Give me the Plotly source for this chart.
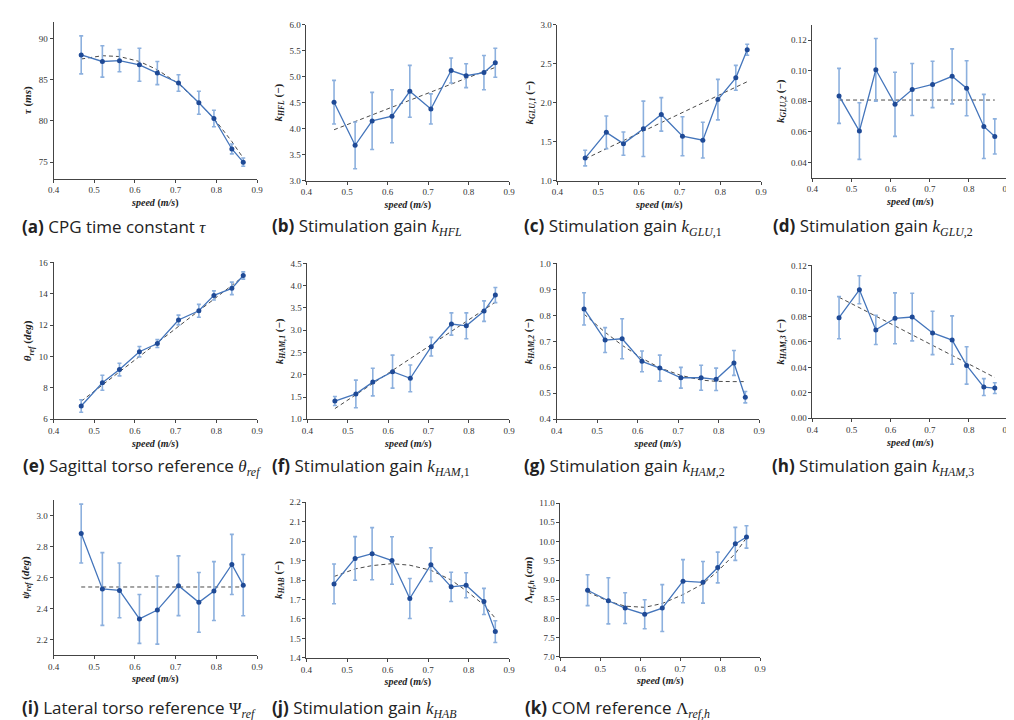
import plotly.graph_objects as go

# ---------------- data ----------------
speed = [0.468, 0.520, 0.562, 0.611, 0.655, 0.707, 0.757, 0.794, 0.838, 0.866]

tau_mean = [88.0, 87.2, 87.3, 86.8, 85.8, 84.6, 82.2, 80.3, 76.6, 75.0]
tau_err = [2.3, 1.9, 1.35, 2.0, 1.4, 1.0, 1.4, 1.0, 0.6, 0.5]
tau_fit = [87.5, 87.9, 87.8, 87.2, 86.2, 84.5, 82.2, 80.3, 77.5, 75.5]

hfl_mean = [4.51, 3.68, 4.15, 4.24, 4.72, 4.38, 5.12, 5.02, 5.08, 5.27]
hfl_err = [0.42, 0.45, 0.55, 0.51, 0.50, 0.29, 0.24, 0.23, 0.33, 0.28]
hfl_fit = [3.98, 4.14, 4.27, 4.41, 4.55, 4.71, 4.86, 4.97, 5.10, 5.18]

glu1_mean = [1.29, 1.62, 1.475, 1.665, 1.85, 1.57, 1.52, 2.04, 2.32, 2.68]
glu1_err = [0.10, 0.21, 0.15, 0.355, 0.215, 0.25, 0.23, 0.26, 0.16, 0.07]
glu1_fit = [1.28, 1.41, 1.51, 1.64, 1.75, 1.88, 2.00, 2.09, 2.20, 2.27]

glu2_mean = [0.0835, 0.0605, 0.1006, 0.078, 0.0877, 0.091, 0.0963, 0.0885, 0.0635, 0.057]
glu2_err = [0.018, 0.0185, 0.0205, 0.021, 0.017, 0.0152, 0.018, 0.018, 0.021, 0.0115]
glu2_fit = [0.0808] * 10

theta_mean = [6.85, 8.33, 9.17, 10.31, 10.83, 12.33, 12.92, 13.90, 14.35, 15.17]
theta_err = [0.40, 0.48, 0.40, 0.33, 0.25, 0.31, 0.41, 0.29, 0.40, 0.23]
theta_fit = [7.15, 8.18, 9.02, 10.0, 10.88, 11.93, 12.93, 13.66, 14.54, 15.1]

ham1_mean = [1.41, 1.57, 1.835, 2.07, 1.92, 2.63, 3.14, 3.10, 3.43, 3.79]
ham1_err = [0.10, 0.31, 0.31, 0.37, 0.30, 0.21, 0.25, 0.29, 0.23, 0.17]
ham1_fit = [1.24, 1.55, 1.80, 2.10, 2.36, 2.67, 2.97, 3.19, 3.46, 3.63]

ham2_mean = [0.825, 0.705, 0.71, 0.623, 0.597, 0.56, 0.56, 0.554, 0.617, 0.485]
ham2_err = [0.062, 0.048, 0.077, 0.040, 0.050, 0.040, 0.048, 0.043, 0.048, 0.022]
ham2_fit = [0.805, 0.735, 0.685, 0.635, 0.598, 0.569, 0.551, 0.546, 0.545, 0.545]

ham3_mean = [0.079, 0.1009, 0.0694, 0.0785, 0.0795, 0.067, 0.0614, 0.0415, 0.0245, 0.0237]
ham3_err = [0.0165, 0.011, 0.0115, 0.020, 0.0187, 0.017, 0.019, 0.0147, 0.0066, 0.0042]
ham3_fit = [0.0950, 0.0870, 0.0800, 0.0725, 0.0655, 0.0575, 0.0495, 0.0435, 0.0365, 0.032]

psi_mean = [2.884, 2.526, 2.517, 2.333, 2.39, 2.547, 2.44, 2.513, 2.685, 2.551]
psi_err = [0.19, 0.235, 0.177, 0.158, 0.22, 0.193, 0.193, 0.19, 0.194, 0.198]
psi_fit = [2.539] * 10

hab_mean = [1.78, 1.911, 1.935, 1.90, 1.705, 1.879, 1.765, 1.773, 1.69, 1.535]
hab_err = [0.102, 0.112, 0.134, 0.122, 0.103, 0.087, 0.075, 0.064, 0.067, 0.056]
hab_fit = [1.818, 1.857, 1.874, 1.884, 1.876, 1.850, 1.800, 1.745, 1.672, 1.604]

com_mean = [8.735, 8.46, 8.27, 8.11, 8.27, 8.97, 8.94, 9.325, 9.94, 10.12]
com_err = [0.40, 0.60, 0.40, 0.376, 0.61, 0.56, 0.54, 0.40, 0.43, 0.29]
com_fit = [8.69, 8.45, 8.32, 8.29, 8.39, 8.62, 8.90, 9.23, 9.69, 10.10]

x_ticks = [0.4, 0.5, 0.6, 0.7, 0.8, 0.9]

# ---------------- styling ----------------
W, H = 1014, 720
LINE_C = "#4475bb"
MARK_C = "#1f4a96"
ERR_C = "#8cb0de"
FIT_C = "#4a4a4a"
SERIF = "Liberation Serif, DejaVu Serif, serif"
SANS = "Open Sans, Noto Sans, DejaVu Sans, sans-serif"


def mth(s):
    return f"<span style=\"font-family:'Liberation Serif'\">{s}</span>"


def px(v):
    return v / W


def py(v):
    return 1 - v / H


panels = [
    # mean, err, fit, yrange, dtick, fmt, ytitle, caption, (x0,x1,ytop,ybot), (capx, capy)
    (tau_mean, tau_err, tau_fit, [73, 92], 5, "d", "<i>τ</i> (<i>ms</i>)",
     "<b>(a)</b> CPG time constant " + mth("<i>τ</i>"), (40, 246, 9, 168), (6, 216)),
    (hfl_mean, hfl_err, hfl_fit, [3, 6], 0.5, ".1f", "<i>k<sub>HFL</sub></i> (−)",
     "<b>(b)</b> Stimulation gain " + mth("<i>k<sub>HFL</sub></i>"), (296, 501, 12, 170), (259, 216)),
    (glu1_mean, glu1_err, glu1_fit, [1, 3], 0.5, ".1f", "<i>k<sub>GLU,1</sub></i> (−)",
     "<b>(c)</b> Stimulation gain " + mth("<i>k<sub>GLU</sub></i><sub>,1</sub>"), (550, 756, 12, 170), (514, 216)),
    (glu2_mean, glu2_err, glu2_fit, [0.03, 0.13], 0.02, ".2f", "<i>k<sub>GLU,2</sub></i> (−)",
     "<b>(d)</b> Stimulation gain " + mth("<i>k<sub>GLU</sub></i><sub>,2</sub>"), (808, 1006, 12, 167), (766, 216)),
    (theta_mean, theta_err, theta_fit, [6, 16], 2, "d", "<i>θ<sub>ref</sub></i> (<i>deg</i>)",
     "<b>(e)</b> Sagittal torso reference " + mth("<i>θ<sub>ref</sub></i>"), (40, 246, 253, 412), (7, 460)),
    (ham1_mean, ham1_err, ham1_fit, [1, 4.5], 0.5, ".1f", "<i>k<sub>HAM,1</sub></i> (−)",
     "<b>(f)</b> Stimulation gain " + mth("<i>k<sub>HAM</sub></i><sub>,1</sub>"), (297, 501, 254, 412), (259, 460)),
    (ham2_mean, ham2_err, ham2_fit, [0.4, 1.0], 0.1, ".1f", "<i>k<sub>HAM,2</sub></i> (−)",
     "<b>(g)</b> Stimulation gain " + mth("<i>k<sub>HAM</sub></i><sub>,2</sub>"), (549, 754, 254, 412), (514, 460)),
    (ham3_mean, ham3_err, ham3_fit, [0.0, 0.12], 0.02, ".2f", "<i>k<sub>HAM,3</sub></i> (−)",
     "<b>(h)</b> Stimulation gain " + mth("<i>k<sub>HAM</sub></i><sub>,3</sub>"), (808, 1006, 256, 411), (765, 460)),
    (psi_mean, psi_err, psi_fit, [2.1, 3.1], 0.2, ".1f", "<i>ψ<sub>ref</sub></i> (<i>deg</i>)",
     "<b>(i)</b> Lateral torso reference " + mth("Ψ<sub><i>ref</i></sub>"), (40, 246, 494, 651), (6, 705)),
    (hab_mean, hab_err, hab_fit, [1.4, 2.2], 0.1, ".1f", "<i>k<sub>HAB</sub></i> (−)",
     "<b>(j)</b> Stimulation gain " + mth("<i>k<sub>HAB</sub></i>"), (296, 501, 496, 654), (259, 705)),
    (com_mean, com_err, com_fit, [7, 11], 0.5, ".1f", "Λ<sub><i>ref,h</i></sub> (<i>cm</i>)",
     "<b>(k)</b> COM reference " + mth("Λ<sub><i>ref,h</i></sub>"), (553, 755, 497, 653), (515, 705)),
]

fig = go.Figure()
annotations = []
layout_axes = {}

for i, (mean, err, fit, yr, dt, fmt, ytitle, cap, dom, cpos) in enumerate(panels, start=1):
    xa = "x" if i == 1 else f"x{i}"
    ya = "y" if i == 1 else f"y{i}"
    fig.add_trace(go.Scatter(
        x=speed, y=fit, mode="lines", xaxis=xa, yaxis=ya,
        line=dict(color=FIT_C, width=1, dash="4px,3px"), showlegend=False, hoverinfo="skip"))
    fig.add_trace(go.Scatter(
        x=speed, y=mean, mode="lines+markers", xaxis=xa, yaxis=ya,
        line=dict(color=LINE_C, width=1.3),
        marker=dict(color=MARK_C, size=5, symbol="circle"),
        error_y=dict(type="data", array=err, visible=True, color=ERR_C, thickness=1.6, width=2),
        showlegend=False))

    x0, x1, yt, yb = dom
    axis_common = dict(
        showline=True, linecolor="#444", linewidth=1, mirror=False,
        ticks="outside", ticklen=3, tickwidth=1, tickcolor="#444",
        showgrid=False, zeroline=False,
        tickfont=dict(family=SERIF, size=9, color="#333"),
    )
    kx = "xaxis" if i == 1 else f"xaxis{i}"
    ky = "yaxis" if i == 1 else f"yaxis{i}"
    layout_axes[kx] = dict(
        axis_common, domain=[px(x0), px(x1)], anchor=ya,
        range=[0.4, 0.9], tickvals=x_ticks, tickformat=".1f",
        title=dict(text="<b><i>speed</i> (<i>m/s</i>)</b>", font=dict(family=SERIF, size=10, color="#222"), standoff=4),
    )
    layout_axes[ky] = dict(
        axis_common, domain=[py(yb), py(yt)], anchor=xa,
        range=yr, dtick=dt, tick0=0, tickformat=fmt,
        title=dict(text=f"<b>{ytitle}</b>", font=dict(family=SERIF, size=11, color="#222"), standoff=4),
    )
    annotations.append(dict(
        text=cap, x=px(cpos[0]), y=py(cpos[1]), xref="paper", yref="paper",
        xanchor="left", yanchor="middle", showarrow=False,
        font=dict(family=SANS, size=17, color="#222")))

fig.update_layout(
    width=W, height=H, margin=dict(l=0, r=0, t=0, b=0),
    paper_bgcolor="white", plot_bgcolor="white",
    annotations=annotations, **layout_axes)

fig.write_html("out.html")
